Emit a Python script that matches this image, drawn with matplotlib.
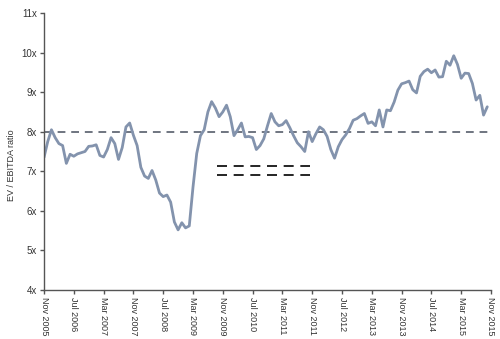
import matplotlib
matplotlib.use("Agg")
import matplotlib.pyplot as plt

# Monthly EV/EBITDA ratio, Nov 2005 .. Oct 2015
ratio = [
    7.35, 7.75, 8.05, 7.85, 7.70, 7.65, 7.20, 7.43, 7.38, 7.44,
    7.47, 7.50, 7.63, 7.64, 7.67, 7.40, 7.36, 7.55, 7.85, 7.70,
    7.30, 7.60, 8.12, 8.22, 7.91, 7.65, 7.10, 6.88, 6.82, 7.02,
    6.78, 6.45, 6.36, 6.40, 6.22, 5.72, 5.52, 5.70, 5.57, 5.62,
    6.60, 7.45, 7.90, 8.05, 8.50, 8.76, 8.60, 8.38, 8.50, 8.67,
    8.38, 7.90, 8.05, 8.22, 7.87, 7.88, 7.85, 7.55, 7.65, 7.82,
    8.15, 8.46, 8.25, 8.15, 8.18, 8.28, 8.10, 7.90, 7.72, 7.62,
    7.50, 8.00, 7.75, 7.95, 8.12, 8.05, 7.88, 7.55, 7.33, 7.62,
    7.80, 7.92, 8.08, 8.29, 8.33, 8.40, 8.46, 8.21, 8.25, 8.15,
    8.55, 8.12, 8.55, 8.53, 8.75, 9.05, 9.21, 9.24, 9.28, 9.06,
    8.98, 9.40, 9.52, 9.58, 9.49, 9.56, 9.38, 9.39, 9.78, 9.68,
    9.92, 9.70, 9.35, 9.48, 9.47, 9.22, 8.80, 8.92, 8.42, 8.63,
]
months = list(range(len(ratio)))
average = 8.0

tick_labels = ["Nov 2005", "Jul 2006", "Mar 2007", "Nov 2007", "Jul 2008",
               "Mar 2009", "Nov 2009", "Jul 2010", "Mar 2011", "Nov 2011",
               "Jul 2012", "Mar 2013", "Nov 2013", "Jul 2014", "Mar 2015",
               "Nov 2015"]
tick_pos = [8 * i for i in range(len(tick_labels))]
y_ticks = [4, 5, 6, 7, 8, 9, 10, 11]
y_labels = [f"{v}x" for v in y_ticks]

plt.rcParams['font.family'] = ['Liberation Sans Narrow', 'Liberation Sans', 'DejaVu Sans']

fig = plt.figure(figsize=(5.0, 3.39), dpi=100)
ax = fig.add_axes([0.088, 0.1445, 0.894, 0.8172])

ax.axhline(average, color="#6f7580", lw=1.4, dashes=(4, 3), zorder=1)
ax.plot(months, ratio, color="#8393ad", lw=2.0, solid_joinstyle="round",
        solid_capstyle="round", zorder=2)

# legend-like black dashed marks
for yy in (0.448, 0.415):
    ax.plot([0.387, 0.595], [yy, yy], transform=ax.transAxes, color="black",
            lw=1.2, dashes=(6, 4))

ax.set_xlim(0, 120)
ax.set_ylim(4, 11)
ax.set_xticks(tick_pos)
ax.set_xticklabels(tick_labels, rotation=270, fontsize=6.5, color="#333333")
ax.set_yticks(y_ticks)
ax.set_yticklabels(y_labels, fontsize=7, color="#333333")

for s in ("top", "right"):
    ax.spines[s].set_visible(False)
for s in ("left", "bottom"):
    ax.spines[s].set_color("#555555")
    ax.spines[s].set_linewidth(1.0)
ax.tick_params(axis="both", direction="out", length=3, width=1.0, color="#555555", pad=2)

fig.text(0.024, 1 - 165 / 339, "EV / EBITDA ratio", rotation=90, fontsize=6.5,
         color="#333333", ha="center", va="center")

fig.savefig("out.png", dpi=100)
